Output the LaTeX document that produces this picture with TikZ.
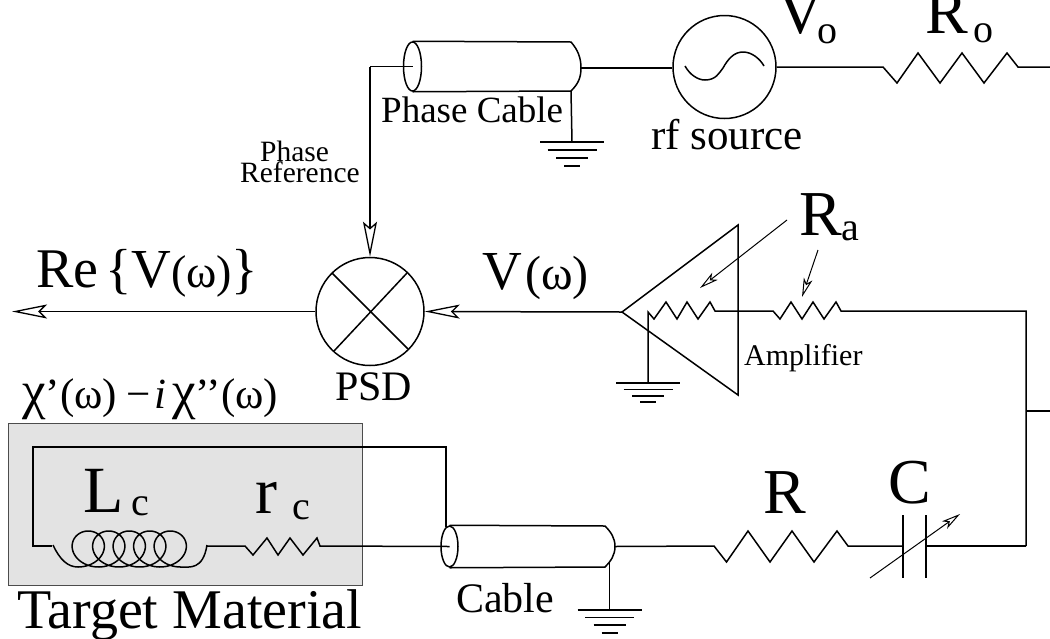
\documentclass[tikz,border=0pt]{standalone}
\usepackage{fontspec}
\setmainfont{Liberation Serif}
\usetikzlibrary{arrows.meta,shapes.geometric}
\newcommand{\szt}[1]{\fontsize{#1}{#1}\selectfont}
\tikzset{
  x=1pt,y=-1pt,
  wire/.style={line width=1.5pt,line join=miter},
  thinline/.style={line width=1pt},
  txt/.style={anchor=base west,inner sep=0pt,text=black},
  bigarrow/.style={-{Stealth[open,length=35pt,width=14pt,inset=7pt,line width=1.3pt]}},
  bigarrowv/.style={-{Stealth[open,length=35pt,width=14pt,inset=6pt,line width=1.3pt]}},
  smallarrow/.style={-{Stealth[open,length=19pt,width=9pt,inset=5pt,line width=1pt]}},
  cableend/.style={ellipse,draw,line width=1.5pt,inner sep=0pt},
  pics/gnd/.style={code={
    \draw[wire] (-32,0) -- (32,0);
    \draw[wire] (-24.5,8) -- (24.5,8);
    \draw[wire] (-16,16) -- (16,16);
    \draw[wire] (-8,24) -- (8,24);
  }}
}
\begin{document}
\begin{tikzpicture}
\useasboundingbox (0,0) rectangle (1050,638);
\clip (0,0) rectangle (1050,638);
% target box
\draw[fill=black!11,draw=black!70,line width=1pt] (8,423) rectangle (362,585);
% named points
\node[cableend,minimum width=18pt,minimum height=49pt] (pc) at (412.5,66.5) {};
\node[cableend,minimum width=17pt,minimum height=41pt] (mc) at (449.5,546.5) {};
\node[circle,draw,line width=1.5pt,minimum size=103pt,inner sep=0pt] (src) at (724.5,67) {};
\node[circle,draw,line width=1.5pt,minimum size=108pt,inner sep=0pt] (psd) at (370,311.5) {};
\coordinate (refcorner) at (370,66.5);
\coordinate (out) at (12,311.5);
\coordinate (ampT) at (622,312);
\coordinate (ampA) at (738,225);
\coordinate (ampB) at (738,395);
\coordinate (rlink) at (1026,311);
\coordinate (rlow) at (1026,546);
\coordinate (rbranch) at (1026,411);
\coordinate (rbranchE) at (1050,411);
\coordinate (ptop) at (571,42);
\coordinate (pbot) at (571,91);
\coordinate (pend) at (581,68);
\coordinate (mtop) at (605,526);
\coordinate (mbot) at (605,567);
\coordinate (mend) at (615,546.5);
\coordinate (mdrop) at (446,527);
\coordinate (mgnd) at (609.5,563);
\coordinate (g1) at (572,142);
\coordinate (g2) at (648,383);
\coordinate (g3) at (609.5,610);
% phase cable
\draw[wire] (pc.north) -- (ptop) .. controls (578,50) and (581,58) .. (pend) .. controls (581,78) and (578,84) .. (pbot) -- (pc.south);
\draw[wire] (refcorner) -- (pc.center);
\draw[wire] (pend) -- (src.west |- pend);
\draw[wire] (pbot) -- (g1);
\pic at (g1) {gnd};
% source
\draw[wire] (685,66) .. controls (690,75) and (698,80) .. (705,80) .. controls (716,80) and (719,73) .. (723,68) .. controls (728,59) and (734,52) .. (743,52) .. controls (752,52) and (760,59) .. (764,66);
\draw[wire] (src.east) -- (883,67) -- (897,83) -- (918,53) -- (940,83) -- (962,53) -- (984,83) -- (1007,53) -- (1018,67) -- (1050,67);
% phase ref & PSD
\draw[wire,bigarrowv] (refcorner) -- (psd.north);
\draw[wire,bigarrow] (psd.west) -- (out);
\draw[wire,bigarrow] (ampT) -- (psd.east);
\draw[wire] (332,273) -- (408,349);
\draw[wire] (407,273) -- (334,351);
% amplifier
\draw[wire] (ampT) -- (ampA) -- (ampB) -- cycle;
\draw[wire] (g2) -- (648,312) -- (654,319) -- (666,302) -- (677,319) -- (687,302) -- (698,319) -- (710,302) -- (715,311) -- (773,311) -- (780,319) -- (791,302) -- (802,319) -- (813,302) -- (824,319) -- (836,302) -- (841,311) -- (rlink) -- (rlow);
\pic[yscale=.8] at (g2) {gnd};
\draw[wire] (rbranch) -- (rbranchE);
\draw[thinline,smallarrow] (787,220) -- (700,288);
\draw[thinline,smallarrow] (818,250) -- (802,297);
% main loop
\draw[wire] (mdrop) -- (446,447) -- (33,447) -- (33,546) -- (52,546);
\draw[wire] (53,545) .. controls (60,560) and (68,567) .. (78,567)
  -- plot[domain=0:1800,samples=300] ({78+0.0569444*\x+21*sin(\x)},{549+18*cos(\x)})
  .. controls (190,567) and (203,570) .. (207,545);
\draw[wire] (207,546) -- (245,546) -- (253,555) -- (267,538) -- (278,555) -- (290,538) -- (303,555) -- (317,538) -- (320,546) -- (mc.center);
\draw[wire] (mc.north) -- (mtop) .. controls (611,532) and (615,538) .. (mend) .. controls (615,555) and (611,561) .. (mbot) -- (mc.south);
\draw[wire] (mgnd) -- (g3);
\pic[yscale=.95] at (g3) {gnd};
\draw[wire] (mend) -- (714,546) -- (726.5,562) -- (748,531) -- (770,562) -- (792,531) -- (814,562) -- (837,531) -- (848,546) -- (903,546);
\draw[wire] (903,515) -- (903,578);
\draw[wire] (926,515) -- (926,578);
\draw[wire] (926,546) -- (rlow);
\draw[thinline,smallarrow] (870,578) -- (960,514);
% labels
\node[txt,font=\szt{64}] (vo) at (777,33) {V};
\node[txt,font=\szt{40}] (vos) at (817,43) {o};
\node[txt,font=\szt{64}] (ro) at (925,33) {R};
\node[txt,font=\szt{40}] (ros) at (973,42) {o};
\node[txt,font=\szt{37}] (pcl) at (381,122) {Phase Cable};
\node[txt,font=\szt{43}] (rfl) at (651,149) {rf source};
\node[txt,font=\szt{29.5}] (ph1) at (260,161) {Phase};
\node[txt,font=\szt{29.5}] (ph2) at (240,182) {Reference};
\node[txt,font=\szt{64}] (ra) at (799,235) {R};
\node[txt,font=\szt{40}] (ras) at (841,240) {a};
\node[txt,font=\szt{30}] (ampl) at (744,365) {Amplifier};
\node[txt,font=\szt{55}] (v1) at (482,289) {V};
\node[txt,font=\szt{48}] (v2) at (525,289) {(ω)};
\node[txt,font=\szt{56}] (re) at (36,287) {Re};
\node[txt,font=\szt{55}] (re2) at (105,287) {\{};
\node[txt,font=\szt{55}] (re3) at (131,287) {V};
\node[txt,font=\szt{46}] (re4) at (171,287) {(ω)};
\node[txt,font=\szt{55}] (re5) at (231,287) {\}};
\node[txt,font=\szt{42}] (psdl) at (335,400) {PSD};
\node[txt,font=\szt{43}] (chi1) at (22,408) {{\szt{53}χ}’(ω)};
\node[txt,font=\szt{43}] (chi2) at (126,408) {−};
\node[txt,font=\szt{43}] (chi3) at (154,408) {\textit{i}};
\node[txt,font=\szt{43}] (chi4) at (172,408) {{\szt{53}χ}’’(ω)};
\node[txt,font=\szt{66}] (lc) at (83,512) {L};
\node[txt,font=\szt{40}] (lcs) at (131,515) {c};
\node[txt,font=\szt{66}] (rc) at (255,513) {r};
\node[txt,font=\szt{40}] (rcs) at (292,519) {c};
\node[txt,font=\szt{56}] (tm) at (17,628) {Target Material};
\node[txt,font=\szt{42}] (cbl) at (456,612) {Cable};
\node[txt,font=\szt{64}] (rr) at (763,513) {R};
\node[txt,font=\szt{64}] (cc) at (888,503) {C};
\end{tikzpicture}
\end{document}
